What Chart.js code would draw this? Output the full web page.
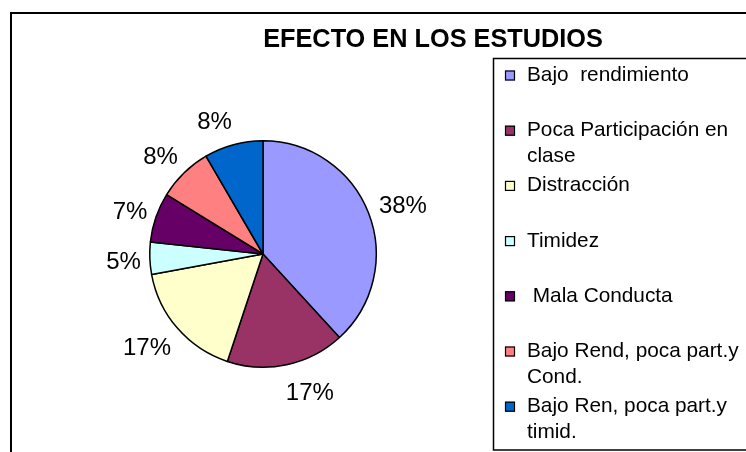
<!DOCTYPE html>
<html>
<head>
<meta charset="utf-8">
<script src="https://cdn.jsdelivr.net/npm/chart.js@4/dist/chart.umd.min.js"></script>
<style>
  html, body { margin: 0; padding: 0; background: #ffffff; }
  #wrap { width: 746px; height: 452px; position: relative; }
</style>
</head>
<body>
<div id="wrap"><canvas id="c" width="746" height="452"></canvas></div>
<script>
// ---- data ----
const chartTitle = 'EFECTO EN LOS ESTUDIOS';
const categories = [
  'Bajo  rendimiento',
  ['Poca Participación en', 'clase'],
  'Distracción',
  'Timidez',
  ' Mala Conducta',
  ['Bajo Rend, poca part.y', 'Cond.'],
  ['Bajo Ren, poca part.y', 'timid.']
];
const values = [38.2, 16.9, 17.0, 4.6, 7.1, 7.8, 8.4];
const colors = ['#9999FF', '#993366', '#FFFFCC', '#CCFFFF', '#660066', '#FF8080', '#0066CC'];

const FONT = '"Liberation Sans", Arial, sans-serif';

const framePlugin = {
  id: 'frame',
  beforeDraw(chart) {
    const ctx = chart.ctx;
    ctx.save();
    ctx.fillStyle = '#ffffff';
    ctx.fillRect(0, 0, chart.width, chart.height);
    // outer chart frame (runs off the right / bottom)
    ctx.strokeStyle = '#000000';
    ctx.lineWidth = 2;
    ctx.strokeRect(11, 13, 900, 600);
    // title
    ctx.fillStyle = '#000000';
    ctx.font = 'bold 25.3px ' + FONT;
    ctx.textAlign = 'center';
    ctx.textBaseline = 'alphabetic';
    ctx.fillText(chartTitle, 433, 47);
    ctx.restore();
  }
};

const legendPlugin = {
  id: 'customLegend',
  afterDraw(chart) {
    const ctx = chart.ctx;
    const left = 493.5, top = 58.5, bottom = 450;
    ctx.save();
    ctx.strokeStyle = '#000000';
    ctx.lineWidth = 1.5;
    ctx.strokeRect(left, top, 400, bottom - top);
    ctx.font = '20.8px ' + FONT;
    ctx.textAlign = 'left';
    ctx.textBaseline = 'alphabetic';
    const labels = chart.data.labels;
    const bg = chart.data.datasets[0].backgroundColor;
    labels.forEach((lab, i) => {
      const base = 81 + i * 55.2;
      ctx.fillStyle = bg[i];
      ctx.fillRect(505, base - 10.5, 10, 10);
      ctx.strokeStyle = '#000000';
      ctx.lineWidth = 1.2;
      ctx.strokeRect(505.5, base - 10, 9, 9);
      ctx.fillStyle = '#000000';
      const lines = Array.isArray(lab) ? lab : [lab];
      lines.forEach((ln, j) => ctx.fillText(ln, 527, base + j * 26));
    });
    ctx.restore();
  }
};

const outsideLabels = {
  id: 'outsideLabels',
  afterDatasetsDraw(chart) {
    const ctx = chart.ctx;
    const meta = chart.getDatasetMeta(0);
    const data = chart.data.datasets[0].data;
    const total = data.reduce((a, b) => a + b, 0);
    ctx.save();
    ctx.font = '24px ' + FONT;
    ctx.fillStyle = '#000000';
    ctx.textAlign = 'center';
    ctx.textBaseline = 'middle';
    meta.data.forEach((arc, i) => {
      const p = arc.getProps(['x', 'y', 'startAngle', 'endAngle', 'outerRadius'], true);
      const mid = (p.startAngle + p.endAngle) / 2;
      const txt = Math.round(data[i] / total * 100) + '%';
      const hw = ctx.measureText(txt).width / 2;
      const cx = Math.cos(mid), cy = Math.sin(mid);
      const d = p.outerRadius + 10;
      const ox = hw * Math.max(-1, Math.min(1, cx * 4));
      const oy = 16 * cy;
      ctx.fillText(txt, p.x + d * cx + ox + 1, p.y + d * cy + oy + 3);
    });
    ctx.restore();
  }
};

new Chart(document.getElementById('c'), {
  type: 'pie',
  data: {
    labels: categories,
    datasets: [{
      data: values,
      backgroundColor: colors,
      borderColor: '#000000',
      borderWidth: 1.5,
      hoverOffset: 0
    }]
  },
  options: {
    responsive: false,
    animation: false,
    events: [],
    layout: { padding: { left: 149, top: 140, right: 369, bottom: 84 } },
    plugins: {
      legend: { display: false },
      tooltip: { enabled: false },
      title: { display: false }
    }
  },
  plugins: [framePlugin, legendPlugin, outsideLabels]
});
</script>
</body>
</html>
